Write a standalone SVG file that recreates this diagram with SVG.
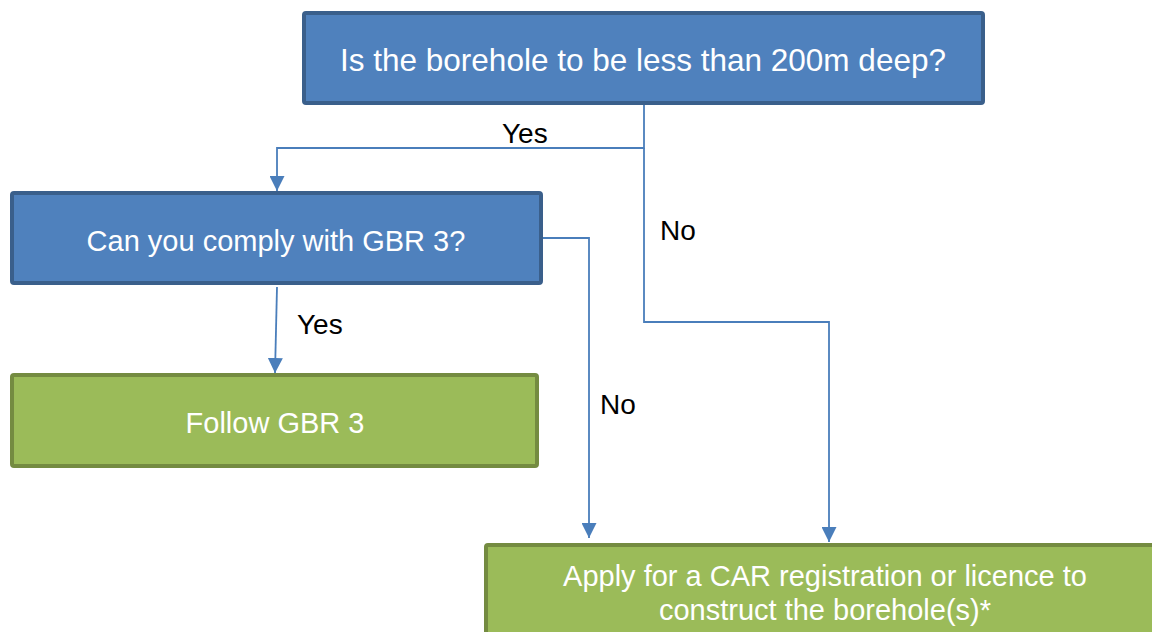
<svg xmlns="http://www.w3.org/2000/svg" width="1152" height="632" viewBox="0 0 1152 632">
<style>
.blue{fill:#4F81BD;stroke:#3A5F8B;stroke-width:4}
.green{fill:#9BBB59;stroke:#748B41;stroke-width:4}
.nt{font-family:"Liberation Sans",Arial,sans-serif;fill:#FFFFFF;text-anchor:middle}
.lbl{font-family:"Liberation Sans",Arial,sans-serif;fill:#000000;font-size:28px}
.con{fill:none;stroke:#4A7EBB;stroke-width:1.8}
</style>
<defs>
<marker id="arr" viewBox="0 0 10 10" refX="10" refY="5" markerWidth="15" markerHeight="15" markerUnits="userSpaceOnUse" orient="auto">
<path d="M0,0 L10,5 L0,10 z" fill="#4A7EBB"/>
</marker>
</defs>
<rect width="1152" height="632" fill="#FFFFFF"/>
<g id="connectors">
<path class="con" d="M644 105 V148 H277 V191" marker-end="url(#arr)"/>
<path class="con" d="M644 148 V322 H829 V542" marker-end="url(#arr)"/>
<path class="con" d="M543 238 H589 V538" marker-end="url(#arr)"/>
<path class="con" d="M277 287 L275 373" marker-end="url(#arr)"/>
</g>
<g id="node-depth">
<rect class="blue" x="304" y="13" width="679" height="90" rx="2"/>
<text class="nt" x="643" y="71" font-size="31.5">Is the borehole to be less than 200m deep?</text>
</g>
<g id="node-comply">
<rect class="blue" x="12" y="193" width="529" height="90" rx="2"/>
<text class="nt" x="276" y="251" font-size="29">Can you comply with GBR 3?</text>
</g>
<g id="node-follow">
<rect class="green" x="12" y="375" width="525" height="91" rx="2"/>
<text class="nt" x="275" y="433" font-size="29">Follow GBR 3</text>
</g>
<g id="node-apply">
<rect class="green" x="486" y="545" width="678" height="92" rx="2"/>
<text class="nt" x="825" y="586" font-size="29">Apply for a CAR registration or licence to</text>
<text class="nt" x="825" y="620" font-size="29">construct the borehole(s)*</text>
</g>
<g id="labels">
<text class="lbl" x="502" y="143">Yes</text>
<text class="lbl" x="660" y="240">No</text>
<text class="lbl" x="297" y="334">Yes</text>
<text class="lbl" x="600" y="414">No</text>
</g>
</svg>
